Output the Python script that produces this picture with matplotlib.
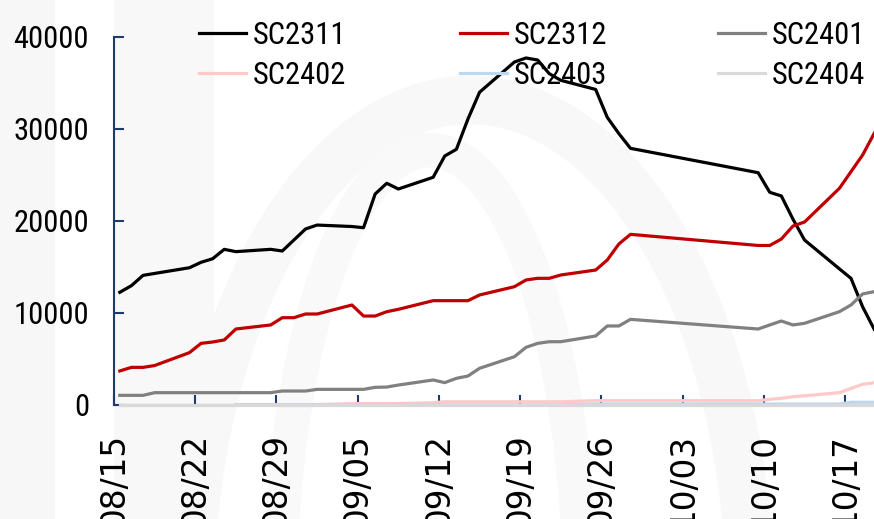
import matplotlib
matplotlib.use("Agg")
import matplotlib.pyplot as plt
import matplotlib.dates as mdates
import matplotlib.patches as mpatches
from matplotlib import font_manager as fm
import numpy as np
import pandas as pd

# trading days (2023)
dates = ["08-15", "08-16", "08-17", "08-18", "08-21", "08-22", "08-23", "08-24", "08-25",
         "08-28", "08-29", "08-30", "08-31", "09-01", "09-04", "09-05", "09-06", "09-07",
         "09-08", "09-11", "09-12", "09-13", "09-14", "09-15", "09-18", "09-19", "09-20",
         "09-21", "09-22", "09-25", "09-26", "09-27", "09-28", "10-09", "10-10", "10-11",
         "10-12", "10-13", "10-16", "10-17", "10-18", "10-19"]

sc2311 = [12250, 12970, 14090, 14300, 14920, 15510, 15900, 16920, 16670,
          16920, 16740, 17930, 19130, 19560, 19400, 19270, 22930, 24100,
          23480, 24750, 27070, 27790, 31090, 34000, 37280, 37720, 37500,
          36020, 35290, 34300, 31270, 29500, 27900, 25250, 23120, 22720,
          20200, 17930, 14800, 13770, 10680, 8230]
sc2312 = [3700, 4090, 4090, 4290, 5690, 6700, 6850, 7070, 8260,
          8700, 9490, 9490, 9890, 9890, 10870, 9670, 9670, 10140,
          10400, 11340, 11340, 11340, 11340, 11960, 12860, 13590, 13770,
          13770, 14130, 14670, 15760, 17500, 18550, 17340, 17340, 18040,
          19450, 19890, 23550, 25360, 27170, 29530]
sc2401 = [1050, 1050, 1050, 1340, 1340, 1340, 1340, 1340, 1340,
          1340, 1520, 1520, 1520, 1700, 1700, 1700, 1920, 1950,
          2170, 2720, 2430, 2900, 3150, 3990, 5250, 6270, 6700,
          6880, 6880, 7500, 8590, 8590, 9310, 8260, 8700, 9130,
          8700, 8880, 10140, 10870, 12070, 12320]
sc2402 = [np.nan] * 8 + [50,
          50, 50, 50, 50, 50, 150, 150, 150, 150,
          150, 250, 350, 350, 350, 350, 350, 350, 350,
          350, 350, 470, 470, 470, 470, 470, 620, 730,
          900, 1000, 1340, 1800, 2250, 2420]
sc2403 = [np.nan] * 8 + [0,
          0, 0, 0, 0, 0, 0, 0, 0, 0,
          0, 0, 0, 0, 0, 0, 0, 0, 0,
          0, 0, 100, 100, 100, 100, 100, 100, 100,
          100, 100, 100, 300, 300, 300]
sc2404 = [0] * 42

names = ["SC2311", "SC2312", "SC2401", "SC2402", "SC2403", "SC2404"]
colors = ["#000000", "#c00000", "#808080", "#ffc9c9", "#bdd7ee", "#d9d9d9"]
series = [sc2311, sc2312, sc2401, sc2402, sc2403, sc2404]


def pick_narrow():
    # look for a narrow / condensed regular face among the installed fonts
    prefs = ["liberationsansnarrow-regular", "robotocondensed-regular", "notosans-condensed.",
             "notosans-condensed", "dejavusanscondensed.", "notosans-semicondensed."]
    files = [f.fname for f in fm.fontManager.ttflist]
    for p in prefs:
        for fn in files:
            base = fn.lower().replace(" ", "").split("/")[-1]
            if base.startswith(p.rstrip(".")) and ("bold" not in base and "italic" not in base
                                                   and "light" not in base and "medium" not in base
                                                   and "thin" not in base and "black" not in base):
                if p.endswith(".") and not base.startswith(p):
                    continue
                return fn
    return None


narrow_file = pick_narrow()


def yfont(size):
    if narrow_file:
        return fm.FontProperties(fname=narrow_file, size=size)
    return fm.FontProperties(family="Liberation Sans", size=size * 0.85)


x = pd.to_datetime(["2023-" + d for d in dates]) + pd.Timedelta(hours=12)

W, H = 874, 519
fig = plt.figure(figsize=(W / 100, H / 100), dpi=100)

# faint watermark in the background
bg = fig.add_axes([0, 0, 1, 1], zorder=-5)
bg.set_xlim(0, W); bg.set_ylim(H, 0); bg.axis("off")
bg.add_patch(mpatches.Rectangle((0, 0), 55, H, color="#f7f7f7", lw=0))
bg.add_patch(mpatches.Rectangle((114, 0), 100, H, color="#f8f8f8", lw=0))
bg.add_patch(mpatches.Ellipse((470, 600), 560, 1000, fill=False, ec="#f8f8f8", lw=35))
bg.add_patch(mpatches.Ellipse((430, 600), 300, 900, fill=False, ec="#f9f9f9", lw=25))

axc = "#1f3a6e"
ax = fig.add_axes([114 / W, (H - 405) / H, (880 - 114) / W, (405 - 37) / H])
ax.patch.set_alpha(0)

lines = []
for s, c, n in zip(series, colors, names):
    ln, = ax.plot(x, s, color=c, lw=2.3, label=n, zorder=3, clip_on=(n != "SC2404"))
    lines.append(ln)

ax.set_xlim(pd.Timestamp("2023-08-15"), pd.Timestamp("2023-10-20"))
ax.set_ylim(0, 40000)
ax.set_yticks([0, 10000, 20000, 30000, 40000])
xt = pd.date_range("2023-08-15", "2023-10-17", freq="7D")
ax.set_xticks(xt)
ax.xaxis.set_major_formatter(mdates.DateFormatter("%m/%d"))

for sp in ["top", "right"]:
    ax.spines[sp].set_visible(False)
for sp in ["left", "bottom"]:
    ax.spines[sp].set_color(axc)
    ax.spines[sp].set_linewidth(1.5)
    ax.spines[sp].set_zorder(2)

ax.tick_params(axis="y", direction="in", length=7, width=1.5, color=axc, pad=18)
ax.tick_params(axis="x", direction="in", length=7, width=1.5, color=axc, pad=20)
for lab in ax.get_yticklabels():
    lab.set_fontproperties(yfont(22))
for lab in ax.get_xticklabels():
    lab.set_fontfamily("DejaVu Sans")
    lab.set_fontsize(23.5)
    lab.set_rotation(90)

# legend: three columns, placed one by one
col_x = [199, 460, 718]
for i, cx in enumerate(col_x):
    hs = [lines[i], lines[i + 3]]
    leg = fig.legend(hs, [names[i], names[i + 3]], loc="upper left",
                     bbox_to_anchor=(cx / W, 1 - 21 / H), frameon=False, prop=yfont(22),
                     handlelength=1.55, handletextpad=0.2, labelspacing=0.35,
                     borderpad=0, borderaxespad=0)
    for h in leg.get_lines():
        h.set_linewidth(2.3)

fig.savefig("out.png", dpi=100)
